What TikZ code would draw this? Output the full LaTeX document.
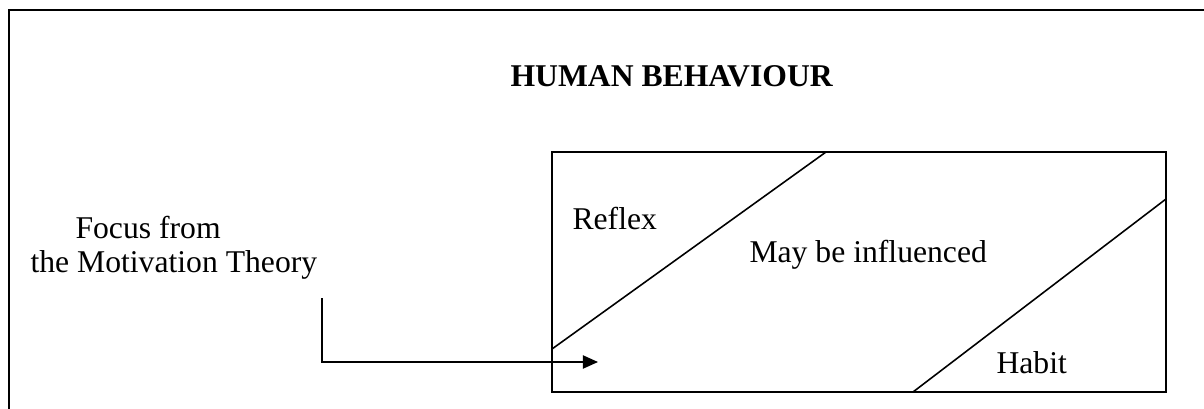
\documentclass[tikz,border=0pt]{standalone}
\usepackage{fontspec}
\setmainfont{Liberation Serif}
\usetikzlibrary{arrows.meta,positioning}

\begin{document}
\begin{tikzpicture}[
  x=0.379pt, y=-0.379pt,
  lbl/.style={anchor=base west,inner sep=0pt,font=\fontsize{12}{14}\selectfont},
  frame/.style={line width=0.6pt},
  arr/.style={-{Triangle[length=5.7pt,width=5pt]},line width=0.5pt}
]
\useasboundingbox (0,0) rectangle (1204,409);
% outer frame, open at bottom and right
\draw[frame] (9,409) -- (9,10) -- (1210,10);
\node[lbl,font=\fontsize{12}{14}\selectfont\bfseries] (title) at (510,87) {HUMAN BEHAVIOUR};

% behaviour box
\coordinate (bnw) at (552,152);
\coordinate (bse) at (1166,392);
\draw[frame] (bnw) rectangle (bse);
\draw[frame] (552,349) -- (826,152);
\draw[frame] (913,392) -- (1166,199);
\node[lbl] (reflex) at (572,230) {Reflex};
\node[lbl] (infl) at (749,263) {May be influenced};
\node[lbl] (habit) at (996,374) {Habit};

% focus label and arrow
\node[lbl] (focus) at (75,239) {Focus from};
\node[lbl] (theory) at (30,272) {the Motivation Theory};
\coordinate (src) at (322,298);
\coordinate (dst) at (598,362);
\draw[arr] (src) |- (dst);
\end{tikzpicture}
\end{document}
